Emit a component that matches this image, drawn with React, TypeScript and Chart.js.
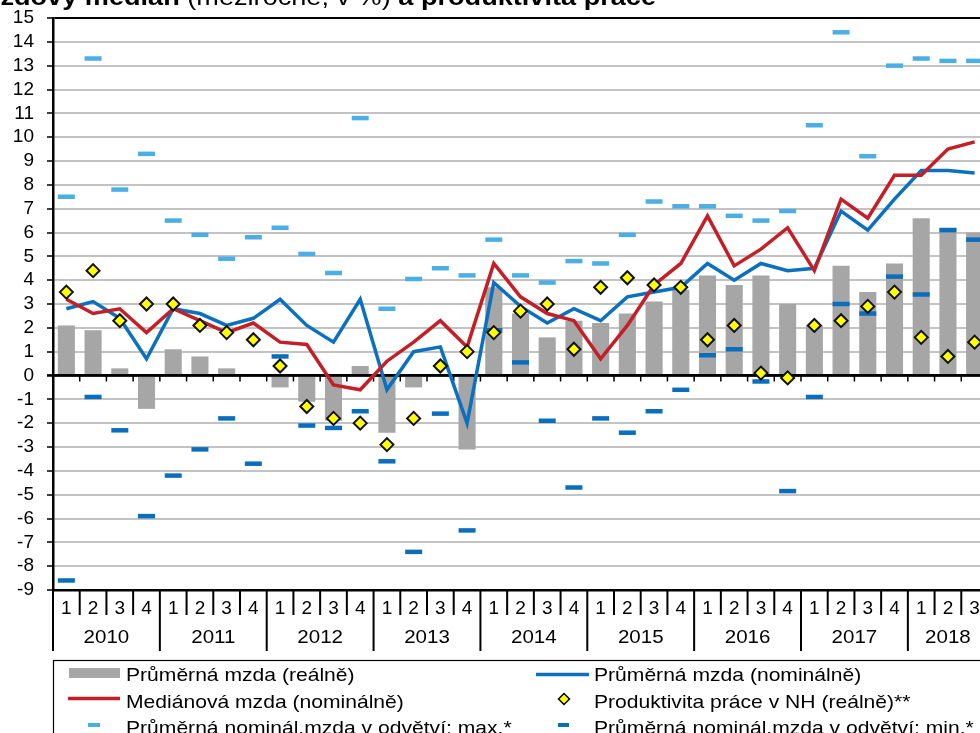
import React, { useEffect, useRef } from 'react';
import { Chart, registerables } from 'chart.js';

Chart.register(...registerables);

const FONT = "'Liberation Sans', Arial, Helvetica, sans-serif";

// ---------- text ----------
const titleParts: { t: string; bold: boolean }[] = [
  { t: 'Průměrná mzda, mzdový medián', bold: true },
  { t: ' (meziročně, v %) ', bold: false },
  { t: 'a produktivita práce', bold: true },
];

const quarterLabels = [
  '1', '2', '3', '4', '1', '2', '3', '4', '1', '2', '3', '4',
  '1', '2', '3', '4', '1', '2', '3', '4', '1', '2', '3', '4',
  '1', '2', '3', '4', '1', '2', '3', '4', '1', '2', '3',
];
const yearLabels = ['2010', '2011', '2012', '2013', '2014', '2015', '2016', '2017', '2018'];
const quartersPerYear = [4, 4, 4, 4, 4, 4, 4, 4, 3];

const LBL_REAL = 'Průměrná mzda (reálně)';
const LBL_NOM = 'Průměrná mzda (nominálně)';
const LBL_MED = 'Mediánová mzda (nominálně)';
const LBL_PROD = 'Produktivita práce v NH (reálně)**';
const LBL_MAX = 'Průměrná nominál.mzda v odvětví: max.*';
const LBL_MIN = 'Průměrná nominál.mzda v odvětví: min.*';

// ---------- data ----------
const realWage = [
  2.1, 1.9, 0.3, -1.4,
  1.1, 0.8, 0.3, 0.0,
  -0.5, -1.1, -1.9, 0.4,
  -2.4, -0.5, 0.0, -3.1,
  3.7, 2.6, 1.6, 2.3,
  2.2, 2.6, 3.1, 3.6,
  4.2, 3.8, 4.2, 3.0,
  2.1, 4.6, 3.5, 4.7,
  6.6, 6.2, 6.0,
];
const nominalWage = [
  2.8, 3.1, 2.4, 0.7,
  2.8, 2.6, 2.1, 2.4,
  3.2, 2.1, 1.4, 3.2,
  -0.6, 1.0, 1.2, -2.0,
  3.9, 2.9, 2.2, 2.8,
  2.3, 3.3, 3.5, 3.7,
  4.7, 4.0, 4.7, 4.4,
  4.5, 6.9, 6.1, 7.4,
  8.6, 8.6, 8.5,
];
const medianWage = [
  3.2, 2.6, 2.8, 1.8,
  2.8, 2.3, 1.8, 2.2,
  1.4, 1.3, -0.4, -0.6,
  0.6, 1.4, 2.3, 1.2,
  4.7, 3.3, 2.6, 2.3,
  0.7, 2.1, 3.8, 4.7,
  6.7, 4.6, 5.3, 6.2,
  4.4, 7.4, 6.6, 8.4,
  8.4, 9.5, 9.8,
];
const productivity = [
  3.5, 4.4, 2.3, 3.0,
  3.0, 2.1, 1.8, 1.5,
  0.4, -1.3, -1.8, -2.0,
  -2.9, -1.8, 0.4, 1.0,
  1.8, 2.7, 3.0, 1.1,
  3.7, 4.1, 3.8, 3.7,
  1.5, 2.1, 0.1, -0.1,
  2.1, 2.3, 2.9, 3.5,
  1.6, 0.8, 1.4,
];
const industryMax = [
  7.5, 13.3, 7.8, 9.3,
  6.5, 5.9, 4.9, 5.8,
  6.2, 5.1, 4.3, 10.8,
  2.8, 4.05, 4.5, 4.2,
  5.7, 4.2, 3.9, 4.8,
  4.7, 5.9, 7.3, 7.1,
  7.1, 6.7, 6.5, 6.9,
  10.5, 14.4, 9.2, 13.0,
  13.3, 13.2, 13.2,
];
const industryMin = [
  -8.6, -0.9, -2.3, -5.9,
  -4.2, -3.1, -1.8, -3.7,
  0.8, -2.1, -2.2, -1.5,
  -3.6, -7.4, -1.6, -6.5,
  1.9, 0.55, -1.9, -4.7,
  -1.8, -2.4, -1.5, -0.6,
  0.85, 1.1, -0.25, -4.85,
  -0.9, 3.0, 2.6, 4.15,
  3.4, 6.1, 5.7,
];

const Y_MIN = -9;
const Y_MAX = 15;

const C_BAR = '#A6A6A6';
const C_BLUE = '#0A70BF';
const C_RED = '#C41E26';
const C_MAX = '#4BAFE6';
const C_MIN = '#0A6EBD';
const C_DIAMOND = '#FFFF00';
const C_GRID = '#C3C3C3';

function stretchedText(ctx: CanvasRenderingContext2D, text: string, x: number, y: number, sx: number, align: CanvasTextAlign) {
  ctx.save();
  ctx.translate(x, y);
  ctx.scale(sx, 1);
  ctx.textAlign = align;
  ctx.fillText(text, 0, 0);
  ctx.restore();
}

function hLine(ctx: CanvasRenderingContext2D, x1: number, x2: number, y: number, lw: number, color: string) {
  ctx.save();
  ctx.strokeStyle = color;
  ctx.lineWidth = lw;
  ctx.beginPath();
  ctx.moveTo(x1, y);
  ctx.lineTo(x2, y);
  ctx.stroke();
  ctx.restore();
}

const decorPlugin = {
  id: 'decor',
  afterDatasetDraw(chart: any, args: any) {
    if (args.index !== 0) return;
    const { ctx, chartArea } = chart;
    const yScale = chart.scales.y;
    const y0 = yScale.getPixelForValue(0);
    const n = chart.data.labels.length;
    const w = (chartArea.right - chartArea.left) / n;
    ctx.save();
    ctx.strokeStyle = '#000';
    ctx.lineWidth = 2.5;
    ctx.beginPath();
    ctx.moveTo(chartArea.left - 6, y0);
    ctx.lineTo(chartArea.right, y0);
    ctx.stroke();
    ctx.lineWidth = 1.5;
    ctx.beginPath();
    for (let i = 1; i < n; i++) {
      const bx = chartArea.left + i * w;
      ctx.moveTo(bx, y0);
      ctx.lineTo(bx, y0 + 6);
    }
    ctx.stroke();
    ctx.restore();
  },
  afterDraw(chart: any) {
    const { ctx, chartArea } = chart;
    const n = chart.data.labels.length;
    const w = (chartArea.right - chartArea.left) / n;
    const axisY = chartArea.bottom;
    const ds = chart.data.datasets;

    ctx.save();
    // category separators
    const yearBounds = [0];
    let acc = 0;
    quartersPerYear.forEach((q) => {
      acc += q;
      yearBounds.push(acc);
    });
    ctx.strokeStyle = '#000';
    ctx.lineWidth = 2;
    ctx.beginPath();
    for (let i = 0; i <= n; i++) {
      const bx = chartArea.left + i * w;
      const isYear = yearBounds.indexOf(i) >= 0;
      ctx.moveTo(bx, axisY);
      ctx.lineTo(bx, axisY + (isYear ? 61 : 25));
    }
    ctx.stroke();

    // year labels
    ctx.fillStyle = '#000';
    ctx.font = `19px ${FONT}`;
    ctx.textBaseline = 'middle';
    yearLabels.forEach((yl, k) => {
      const cx = chartArea.left + ((yearBounds[k] + yearBounds[k + 1]) / 2) * w;
      stretchedText(ctx, yl, cx, axisY + 48, 1.08, 'center');
    });

    // legend box
    const legTop = 660;
    ctx.strokeStyle = '#000';
    ctx.lineWidth = 1.2;
    ctx.strokeRect(chartArea.left + 0.5, legTop + 0.5, 1200, 200);

    const col1 = 126;
    const col2 = 594;
    const rows = [681, 707.5, 734];
    ctx.textBaseline = 'alphabetic';
    ctx.font = `19px ${FONT}`;
    ctx.fillStyle = '#000';
    const sx = 1.11;

    // row 1
    ctx.fillStyle = ds[0].backgroundColor;
    ctx.fillRect(69, 668, 51, 10);
    ctx.fillStyle = '#000';
    stretchedText(ctx, ds[0].label, col1, rows[0], sx, 'left');
    hLine(ctx, 536, 589, 674.5, 3.5, ds[1].borderColor);
    stretchedText(ctx, ds[1].label, col2, rows[0], sx, 'left');

    // row 2
    hLine(ctx, 68, 120, 698.5, 3.5, ds[2].borderColor);
    stretchedText(ctx, ds[2].label, col1, rows[1], sx, 'left');
    ctx.save();
    ctx.beginPath();
    const dx = 564, dy = 699, r = 5.5;
    ctx.moveTo(dx - r, dy);
    ctx.lineTo(dx, dy - r);
    ctx.lineTo(dx + r, dy);
    ctx.lineTo(dx, dy + r);
    ctx.closePath();
    ctx.fillStyle = C_DIAMOND;
    ctx.fill();
    ctx.strokeStyle = '#000';
    ctx.lineWidth = 1.5;
    ctx.stroke();
    ctx.restore();
    stretchedText(ctx, ds[3].label, col2, rows[1], sx, 'left');

    // row 3
    hLine(ctx, 88, 100, 725, 4, ds[4].pointBorderColor);
    stretchedText(ctx, ds[4].label, col1, rows[2], sx, 'left');
    hLine(ctx, 558, 569, 725, 4, ds[5].pointBorderColor);
    stretchedText(ctx, ds[5].label, col2, rows[2], sx, 'left');

    // title (partly outside the visible area)
    const tsx = 1.13;
    const widths = titleParts.map((p) => {
      ctx.font = `${p.bold ? 'bold ' : ''}24px ${FONT}`;
      return ctx.measureText(p.t).width * tsx;
    });
    const total = widths.reduce((a, b) => a + b, 0);
    let tx = 656 - total;
    titleParts.forEach((p, i) => {
      ctx.font = `${p.bold ? 'bold ' : ''}24px ${FONT}`;
      stretchedText(ctx, p.t, tx, 5, tsx, 'left');
      tx += widths[i];
    });

    ctx.restore();
  },
};

export default function App() {
  const canvasRef = useRef<HTMLCanvasElement | null>(null);

  useEffect(() => {
    const canvas = canvasRef.current;
    if (!canvas) return;

    const chart = new Chart(canvas, {
      type: 'bar',
      data: {
        labels: quarterLabels,
        datasets: [
          {
            type: 'bar',
            label: LBL_REAL,
            data: realWage,
            backgroundColor: C_BAR,
            borderWidth: 0,
            barPercentage: 0.64,
            categoryPercentage: 1.0,
            order: 5,
          } as any,
          {
            type: 'line',
            label: LBL_NOM,
            data: nominalWage,
            borderColor: C_BLUE,
            backgroundColor: C_BLUE,
            borderWidth: 3.5,
            pointRadius: 0,
            tension: 0,
            fill: false,
            order: 4,
          },
          {
            type: 'line',
            label: LBL_MED,
            data: medianWage,
            borderColor: C_RED,
            backgroundColor: C_RED,
            borderWidth: 3.5,
            pointRadius: 0,
            tension: 0,
            fill: false,
            order: 3,
          },
          {
            type: 'line',
            label: LBL_PROD,
            data: productivity,
            showLine: false,
            pointStyle: 'rectRot',
            pointRadius: 6.5,
            pointBorderWidth: 2,
            pointBackgroundColor: C_DIAMOND,
            pointBorderColor: '#111',
            borderColor: '#111',
            backgroundColor: C_DIAMOND,
            order: 0,
          },
          {
            type: 'line',
            label: LBL_MAX,
            data: industryMax,
            showLine: false,
            pointStyle: 'line',
            pointRadius: 8.5,
            pointBorderWidth: 4.5,
            pointBorderColor: C_MAX,
            pointBackgroundColor: C_MAX,
            borderColor: C_MAX,
            backgroundColor: C_MAX,
            order: 2,
          },
          {
            type: 'line',
            label: LBL_MIN,
            data: industryMin,
            showLine: false,
            pointStyle: 'line',
            pointRadius: 8.5,
            pointBorderWidth: 4.5,
            pointBorderColor: C_MIN,
            pointBackgroundColor: C_MIN,
            borderColor: C_MIN,
            backgroundColor: C_MIN,
            order: 1,
          },
        ],
      },
      options: {
        responsive: false,
        animation: false,
        devicePixelRatio: 1,
        events: [],
        layout: { autoPadding: false, padding: { top: 18, right: 12, left: 0, bottom: 0 } },
        plugins: {
          legend: { display: false },
          tooltip: { enabled: false },
          title: { display: false },
        },
        scales: {
          x: {
            type: 'category',
            offset: true,
            grid: { display: false, drawTicks: false, tickLength: 0 },
            border: { display: true, color: '#000', width: 2.5 },
            ticks: {
              color: '#000',
              font: { family: FONT, size: 19 },
              padding: 7,
              maxRotation: 0,
              minRotation: 0,
              autoSkip: false,
            },
            afterFit: (scale: any) => {
              scale.height = 143;
              scale.paddingLeft = 0;
              scale.paddingRight = 0;
              scale.paddingTop = 0;
              scale.paddingBottom = 0;
            },
          },
          y: {
            type: 'linear',
            min: Y_MIN,
            max: Y_MAX,
            ticks: {
              stepSize: 1,
              autoSkip: false,
              color: '#000',
              font: { family: FONT, size: 19 },
              padding: 13,
            },
            grid: {
              color: (c: any) => {
                const v = c.tick ? c.tick.value : null;
                return v === Y_MAX || v === 0 || v === Y_MIN ? '#000' : C_GRID;
              },
              lineWidth: (c: any) => {
                const v = c.tick ? c.tick.value : null;
                return v === 0 ? 2.5 : 2;
              },
              tickColor: '#000',
              tickLength: 6,
              tickWidth: 1.5,
              drawTicks: true,
            },
            border: { display: true, color: '#000', width: 2.5 },
            afterFit: (scale: any) => {
              scale.width = 53;
              scale.paddingTop = 0;
              scale.paddingBottom = 0;
              scale.paddingLeft = 0;
              scale.paddingRight = 0;
            },
          },
        },
      },
      plugins: [decorPlugin],
    });

    return () => {
      chart.destroy();
    };
  }, []);

  return (
    <div
      style={{
        position: 'fixed',
        left: 0,
        top: 0,
        width: 980,
        height: 733,
        overflow: 'hidden',
        background: '#ffffff',
      }}
    >
      <canvas ref={canvasRef} width={1000} height={733} style={{ display: 'block' }} />
    </div>
  );
}
